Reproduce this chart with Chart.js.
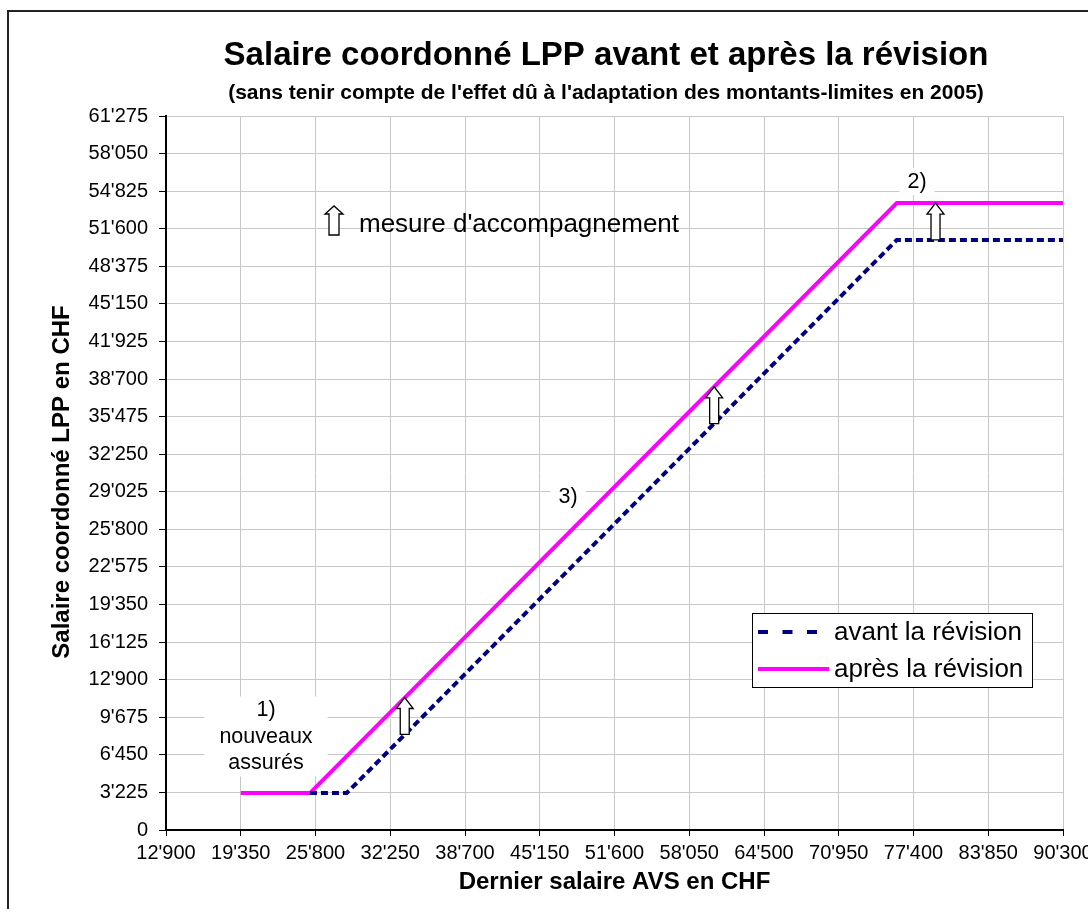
<!DOCTYPE html>
<html><head><meta charset="utf-8">
<script src="https://cdn.jsdelivr.net/npm/chart.js@4"></script>
<style>html,body{margin:0;padding:0;overflow:hidden;background:#fff}canvas{display:block}</style>
</head><body>
<canvas id="c" width="1103" height="909"></canvas>
<script>
// ---------- data ----------
const xTickValues = [12900, 19350, 25800, 32250, 38700, 45150, 51600, 58050, 64500, 70950, 77400, 83850, 90300];
const xTickLabels = ["12'900","19'350","25'800","32'250","38'700","45'150","51'600","58'050","64'500","70'950","77'400","83'850","90'300"];
const yTickValues = [0, 3225, 6450, 9675, 12900, 16125, 19350, 22575, 25800, 29025, 32250, 35475, 38700, 41925, 45150, 48375, 51600, 54825, 58050, 61275];
const yTickLabels = ["0","3'225","6'450","9'675","12'900","16'125","19'350","22'575","25'800","29'025","32'250","35'475","38'700","41'925","45'150","48'375","51'600","54'825","58'050","61'275"];

const avantX = [25320, 28485, 75960, 90300];
const avantY = [3165, 3165, 50640, 50640];
const apresX = [19350, 25320, 75960, 90300];
const apresY = [3165, 3165, 53805, 53805];

// accompanying-measure arrows (x, from value, to value)
const arrowX    = [33500, 60200, 79300];
const arrowFrom = [8200, 34870, 50640];
const arrowTo   = [11370, 38030, 53805];

const titleText = "Salaire coordonné LPP avant et après la révision";
const subtitleText = "(sans tenir compte de l'effet dû à l'adaptation des montants-limites en 2005)";
const xTitle = "Dernier salaire AVS en CHF";
const yTitle = "Salaire coordonné LPP en CHF";
const seriesNames = ["avant la révision", "après la révision"];

const noteLines = [["1)", "nouveaux", "assurés"], ["2)"], ["3)"]];
const noteX = [21529, 77703, 47588];
const noteY = [7981, 55611, 28578];
const mesureText = "mesure d'accompagnement";

const FONT = '"Liberation Sans", Arial, Helvetica, sans-serif';

function pts(xs, ys){ return xs.map((x,i)=>({x:x, y:ys[i]})); }

function drawArrow(ctx, cx, yBase, yTop, headW, headH, shaftW){
  ctx.save();
  ctx.beginPath();
  ctx.moveTo(cx - shaftW/2, yBase);
  ctx.lineTo(cx - shaftW/2, yTop + headH);
  ctx.lineTo(cx - headW/2, yTop + headH);
  ctx.lineTo(cx, yTop);
  ctx.lineTo(cx + headW/2, yTop + headH);
  ctx.lineTo(cx + shaftW/2, yTop + headH);
  ctx.lineTo(cx + shaftW/2, yBase);
  ctx.closePath();
  ctx.fillStyle = '#fff';
  ctx.fill();
  ctx.lineWidth = 1.3;
  ctx.strokeStyle = '#000';
  ctx.stroke();
  ctx.restore();
}

const decor = {
  id: 'decor',
  beforeDatasetsDraw(chart){
    const ctx = chart.ctx, xs = chart.scales.x, ys = chart.scales.y;
    ctx.save();
    ctx.font = '21.5px ' + FONT;
    ctx.textAlign = 'center';
    ctx.textBaseline = 'middle';
    const lh = 26.5;
    noteLines.forEach((lines, i) => {
      const cx = xs.getPixelForValue(noteX[i]);
      const cy = ys.getPixelForValue(noteY[i]);
      const n = lines.length;
      const first = cy - (n-1)/2*lh;
      let w = 0;
      lines.forEach(t => { w = Math.max(w, ctx.measureText(t).width); });
      const padX = n > 1 ? 15 : 8;
      const top = first - 14, bottom = first + (n-1)*lh + 13;
      ctx.fillStyle = '#fff';
      ctx.fillRect(cx - w/2 - padX, top, w + 2*padX, bottom - top);
      ctx.fillStyle = '#000';
      lines.forEach((t, k) => ctx.fillText(t, cx, first + k*lh));
    });
    ctx.restore();
  },
  afterDatasetsDraw(chart){
    const ctx = chart.ctx, xs = chart.scales.x, ys = chart.scales.y;
    arrowX.forEach((v, i) => {
      drawArrow(ctx, xs.getPixelForValue(v), ys.getPixelForValue(arrowFrom[i]), ys.getPixelForValue(arrowTo[i]), 17, 11, 9);
    });
    // mesure d'accompagnement
    const mx = xs.getPixelForValue(27397);
    drawArrow(ctx, mx, ys.getPixelForValue(51063), ys.getPixelForValue(53552), 18, 8, 10);
    ctx.save();
    ctx.font = '26px ' + FONT;
    ctx.fillStyle = '#000';
    ctx.textAlign = 'left';
    ctx.textBaseline = 'alphabetic';
    ctx.fillText(mesureText, xs.getPixelForValue(29554), ys.getPixelForValue(51320));
    ctx.restore();

    // legend
    ctx.save();
    const lx = 752, ly = 613, lw = 280, lhgt = 74;
    ctx.fillStyle = '#fff';
    ctx.fillRect(lx, ly, lw, lhgt);
    ctx.strokeStyle = '#000';
    ctx.lineWidth = 1;
    ctx.strokeRect(lx + 0.5, ly + 0.5, lw, lhgt);
    const ds = chart.data.datasets;
    const rows = [632, 669];
    ds.forEach((d, i) => {
      ctx.beginPath();
      ctx.strokeStyle = d.borderColor;
      ctx.lineWidth = 4;
      if (d.borderDash && d.borderDash.length) { ctx.setLineDash([10, 14.5]); ctx.moveTo(758, rows[i]); ctx.lineTo(817, rows[i]); }
      else { ctx.setLineDash([]); ctx.moveTo(758, rows[i]); ctx.lineTo(829, rows[i]); }
      ctx.stroke();
      ctx.setLineDash([]);
      ctx.fillStyle = '#000';
      ctx.font = '26px ' + FONT;
      ctx.textAlign = 'left';
      ctx.textBaseline = 'middle';
      ctx.fillText(d.label, 834, rows[i] + 1);
    });
    ctx.restore();
  },
  afterDraw(chart){
    const ctx = chart.ctx;
    ctx.save();
    ctx.fillStyle = '#222';
    ctx.fillRect(7, 10, 2, 899);
    ctx.fillRect(7, 10, 1096, 2);
    ctx.fillStyle = '#000';
    ctx.textAlign = 'center';
    ctx.textBaseline = 'alphabetic';
    ctx.font = 'bold 33px ' + FONT;
    ctx.fillText(titleText, 606, 65);
    ctx.font = 'bold 21px ' + FONT;
    ctx.fillText(subtitleText, 606, 99);
    // y axis title
    ctx.translate(62, 482);
    ctx.rotate(-Math.PI / 2);
    ctx.textBaseline = 'middle';
    ctx.font = 'bold 24px ' + FONT;
    ctx.fillText(yTitle, 0, 0);
    ctx.restore();
  }
};

new Chart(document.getElementById('c'), {
  type: 'line',
  data: {
    datasets: [
      { label: seriesNames[0], data: pts(avantX, avantY), borderColor: '#000080', borderWidth: 4, borderDash: [7, 4], borderCapStyle: 'butt', pointRadius: 0, fill: false, tension: 0 },
      { label: seriesNames[1], data: pts(apresX, apresY), borderColor: '#ff00ff', borderWidth: 4, pointRadius: 0, fill: false, tension: 0 }
    ]
  },
  options: {
    responsive: false,
    animation: false,
    devicePixelRatio: 1,
    layout: { padding: { left: 0, top: 116, right: 40, bottom: 0 } },
    plugins: { legend: { display: false }, title: { display: false }, tooltip: { enabled: false } },
    scales: {
      x: {
        type: 'linear', min: 12900, max: 90300,
        afterBuildTicks: s => { s.ticks = xTickValues.map(v => ({ value: v })); },
        afterFit: s => { s.height = 79; },
        ticks: { callback: (v, i) => xTickLabels[i], font: { size: 20, family: FONT }, color: '#000', padding: 5, maxRotation: 0, autoSkip: false },
        grid: { color: '#c8c8c8', tickColor: '#000', tickLength: 6, lineWidth: 1 },
        border: { color: '#000', width: 2 },
        title: { display: true, text: xTitle, color: '#000', font: { size: 24, weight: 'bold', family: FONT }, padding: { top: 0, bottom: 12 } }
      },
      y: {
        type: 'linear', min: 0, max: 61275,
        afterBuildTicks: s => { s.ticks = yTickValues.map(v => ({ value: v })); },
        afterFit: s => { s.width = 166; },
        ticks: { callback: (v, i) => yTickLabels[i], font: { size: 20, family: FONT }, color: '#000', padding: 11, autoSkip: false },
        grid: { color: '#c8c8c8', tickColor: '#000', tickLength: 7, lineWidth: 1 },
        border: { color: '#000', width: 2 },
        title: { display: false, text: yTitle }
      }
    }
  },
  plugins: [decor]
});
</script>
</body></html>
